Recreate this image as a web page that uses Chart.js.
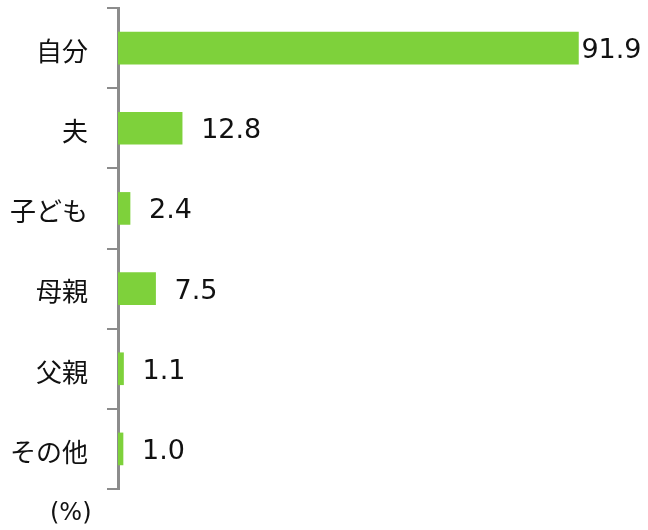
<!DOCTYPE html>
<html>
<head>
<meta charset="utf-8">
<script src="https://cdn.jsdelivr.net/npm/chart.js@4"></script>
<style>
  body { margin: 0; background: #fff; }
  canvas { display: block; }
</style>
</head>
<body>
<canvas id="chart" width="648" height="530"></canvas>
<script>
// data
const categories = ["自分", "夫", "子ども", "母親", "父親", "その他"];
const values = [91.9, 12.8, 2.4, 7.5, 1.1, 1.0];
const unitLabel = "(%)";

const barColor = "#7ed13b";
const axisColor = "#8c8c8c";
const numFont = "'DejaVu Sans', Verdana, sans-serif";
const jpFont = "'Noto Sans CJK JP', sans-serif";

// value labels next to each bar + the unit label under the axis
const valueLabels = {
  id: "valueLabels",
  afterDatasetsDraw(chart) {
    const ctx = chart.ctx;
    const meta = chart.getDatasetMeta(0);
    ctx.save();
    ctx.font = "27px " + numFont;
    ctx.fillStyle = "#111";
    ctx.textBaseline = "middle";
    meta.data.forEach((bar, i) => {
      const txt = values[i].toFixed(1);
      const w = ctx.measureText(txt).width;
      let x = bar.x + 19;
      if (x + w > chart.width - 6) x = bar.x + 3;
      ctx.fillText(txt, x, bar.y + 3);
    });
    ctx.font = "24px " + numFont;
    ctx.textBaseline = "alphabetic";
    ctx.fillText(unitLabel, 50, 520);
    ctx.restore();
  }
};

new Chart(document.getElementById("chart"), {
  type: "bar",
  data: {
    labels: categories,
    datasets: [{
      data: values,
      backgroundColor: barColor,
      borderWidth: 0,
      barThickness: 32
    }]
  },
  options: {
    indexAxis: "y",
    responsive: false,
    animation: false,
    layout: { padding: { top: 8, right: 29, bottom: 41, left: 0 } },
    plugins: {
      legend: { display: false },
      tooltip: { enabled: false }
    },
    scales: {
      x: {
        display: false,
        min: 0,
        max: 100
      },
      y: {
        afterFit: (scale) => {
          scale.width = 118;
          scale.paddingTop = 0;
          scale.paddingBottom = 0;
        },
        border: { color: axisColor, width: 3 },
        grid: {
          offset: true,
          drawOnChartArea: false,
          tickLength: 11,
          color: axisColor,
          lineWidth: 2
        },
        ticks: {
          padding: 19,
          labelOffset: 3,
          color: "#111",
          font: { family: jpFont, size: 26 }
        }
      }
    }
  },
  plugins: [valueLabels]
});
</script>
</body>
</html>
